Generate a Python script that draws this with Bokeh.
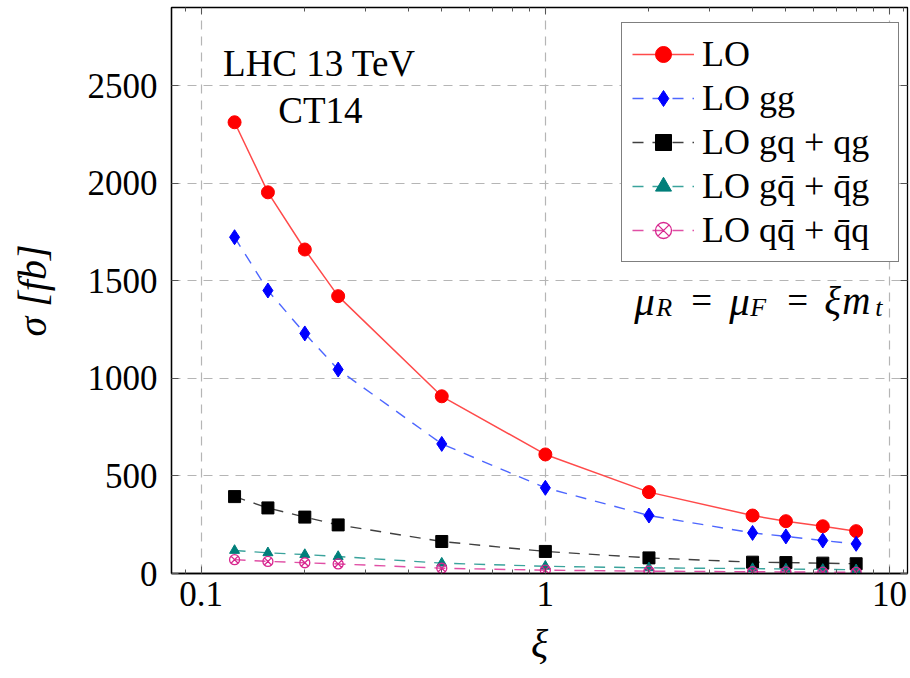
from bokeh.plotting import figure
from bokeh.models import (LogAxis, LinearAxis, FixedTicker, Label, Legend, LegendItem,
                          BasicTickFormatter)
from bokeh.embed import file_html
from bokeh.resources import INLINE

# ---- data ----
xi = [0.125, 0.15625, 0.2, 0.25, 0.5, 1, 2, 4, 5, 6.4, 8]
lo = [2312, 1953, 1660, 1421, 908, 610, 417, 297, 268, 242, 217]
lo_gg = [1723, 1450, 1230, 1045, 664, 439, 297, 208, 190, 169, 152]
lo_gq = [394, 336, 289, 249, 164, 113, 80, 58, 56, 53, 50]
lo_gqbar = [118, 106, 97, 87, 53, 37, 29, 25, 23, 21, 19]
lo_qqbar = [71, 62, 55, 49, 27, 17, 12, 9, 8, 7, 6]

x_ticks = [0.1, 1, 10]
x_minor = [0.09, 0.2, 0.3, 0.4, 0.5, 0.6, 0.7, 0.8, 0.9,
           2, 3, 4, 5, 6, 7, 8, 9, 11]
y_ticks = [0, 500, 1000, 1500, 2000, 2500]

labels = ["LO", "LO gg", "LO gq + qg", "LO gq\u0304 + q\u0304g", "LO qq\u0304 + q\u0304q"]

FONT = "Liberation Serif"

p = figure(width=910, height=678, x_axis_type="log",
           x_range=(0.08197, 11.28), y_range=(0, 2900),
           output_backend="svg", toolbar_location=None,
           min_border_left=171, min_border_right=3, min_border_top=7,
           min_border_bottom=105)

p.outline_line_color = "black"
p.outline_line_width = 1.3
p.background_fill_color = "white"

xt = FixedTicker(ticks=x_ticks, minor_ticks=x_minor)
yt = FixedTicker(ticks=y_ticks, minor_ticks=[])

p.xaxis.ticker = xt
p.xaxis.formatter = BasicTickFormatter()
p.yaxis.ticker = yt

for ax in (p.xaxis[0], p.yaxis[0]):
    ax.major_tick_in = 7
    ax.major_tick_out = 0
    ax.minor_tick_in = 4
    ax.minor_tick_out = 0
    ax.major_tick_line_color = "#555555"
    ax.minor_tick_line_color = "#555555"
    ax.axis_line_color = "black"
    ax.axis_line_width = 1.3
    ax.major_label_text_font = FONT
    ax.major_label_text_font_size = "35px"
    ax.major_label_text_color = "black"
    ax.axis_label_text_font = FONT
    ax.axis_label_text_font_size = "40px"
    ax.axis_label_text_font_style = "italic"
    ax.axis_label_text_color = "black"

p.xaxis.major_label_standoff = 8
p.yaxis.major_label_standoff = 14
p.xaxis.axis_label = "ξ"
p.xaxis.axis_label_standoff = 12
p.yaxis.axis_label = "σ [fb]"
p.yaxis.axis_label_standoff = 30

top = LogAxis(ticker=xt, major_label_text_color=None, major_label_standoff=0,
              major_label_text_font_size="6px",
              major_tick_in=7, major_tick_out=0, minor_tick_in=4, minor_tick_out=0,
              axis_line_color="black", major_tick_line_color="#555555",
              minor_tick_line_color="#555555")
right = LinearAxis(ticker=yt, major_label_text_color=None, major_label_standoff=0,
                   major_label_text_font_size="6px",
                   major_tick_in=7, major_tick_out=0, minor_tick_in=0, minor_tick_out=0,
                   axis_line_color="black", major_tick_line_color="#555555")
p.add_layout(top, "above")
p.add_layout(right, "right")

p.xgrid.ticker = xt
p.ygrid.ticker = yt
for g in (p.xgrid[0], p.ygrid[0]):
    g.grid_line_color = "#b5b5b5"
    g.grid_line_dash = "9 7"
    g.grid_line_width = 1.2

# ---- series ----
r1 = p.line(xi, lo, line_color="#ff4a4a", line_width=1.5)
m1 = p.scatter(xi, lo, marker="circle", size=13, fill_color="#ff0000", line_color="#ff0000")

r2 = p.line(xi, lo_gg, line_color="#4d66ff", line_width=1.4, line_dash="11 9")
m2 = p.scatter(xi, lo_gg, marker="diamond", size=15, fill_color="#0000ff", line_color="#0000ff")

r3 = p.line(xi, lo_gq, line_color="#404040", line_width=1.4, line_dash="11 9")
m3 = p.scatter(xi, lo_gq, marker="square", size=12, fill_color="black", line_color="black")

r4 = p.line(xi, lo_gqbar, line_color="#3aa39c", line_width=1.4, line_dash="11 9")
m4 = p.scatter(xi, lo_gqbar, marker="triangle", size=10, fill_color="#007f7a", line_color="#007f7a")

r5 = p.line(xi, lo_qqbar, line_color="#e04fa5", line_width=1.4, line_dash="11 9")
m5 = p.scatter(xi, lo_qqbar, marker="circle_x", size=10, fill_color=None,
               line_color="#d8268f", line_width=1.3)

legend = Legend(items=[
    LegendItem(label=labels[0], renderers=[r1, m1]),
    LegendItem(label=labels[1], renderers=[r2, m2]),
    LegendItem(label=labels[2], renderers=[r3, m3]),
    LegendItem(label=labels[3], renderers=[r4, m4]),
    LegendItem(label=labels[4], renderers=[r5, m5]),
], location=(450, 311))
legend.label_text_font = FONT
legend.label_text_font_size = "36px"
legend.label_text_color = "black"
legend.glyph_width = 62
legend.glyph_height = 40
legend.label_height = 40
legend.label_width = 186
legend.label_standoff = 8
legend.spacing = 2
legend.padding = 10
legend.margin = 0
legend.border_line_color = "black"
legend.border_line_width = 1.3
legend.background_fill_color = "white"
legend.background_fill_alpha = 1.0
p.add_layout(legend, "center")

# ---- annotations ----
def lab(text, dx, dy, size="37px", style="normal", align="left"):
    p.add_layout(Label(x=1, y=0, x_offset=dx, y_offset=dy, text=text,
                       text_font=FONT, text_font_size=size, text_font_style=style,
                       text_align=align, text_baseline="alphabetic", text_color="black"))

lab("LHC 13 TeV", -226, 510, align="center")
lab("CT14", -225, 463, align="center")

lab("μ", 89, 273, "41px", "italic")
lab("R", 111, 266, "26px", "italic")
lab("=", 146, 273, "37px")
lab("μ", 184, 273, "41px", "italic")
lab("F", 205, 266, "26px", "italic")
lab("=", 242, 273, "37px")
lab("ξ", 279, 273, "39px", "italic")
lab("m", 297, 273, "39px", "italic")
lab("t", 330, 266, "26px", "italic")

open("out.html", "w").write(file_html(p, INLINE))
